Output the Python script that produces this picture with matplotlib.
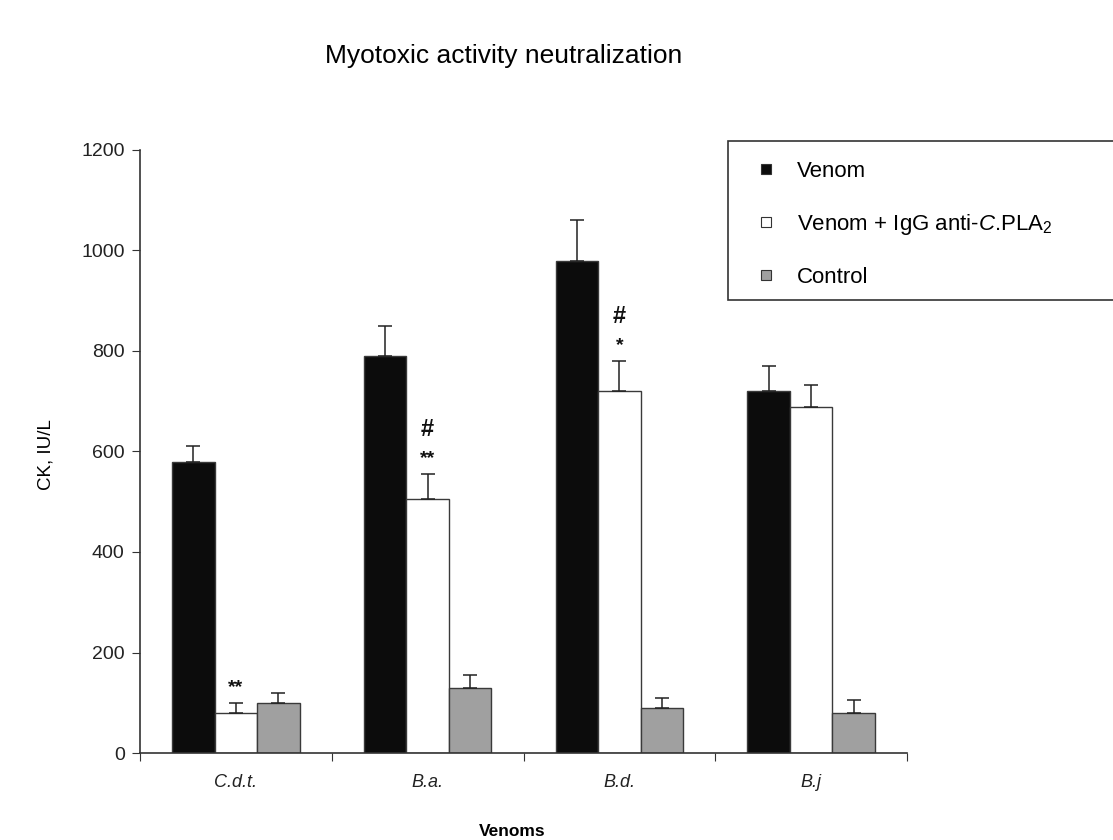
import matplotlib
matplotlib.use("Agg")
import matplotlib.pyplot as plt
import numpy as np
from matplotlib.lines import Line2D
from matplotlib.patches import Rectangle

plt.rcParams['font.family'] = ['Liberation Sans', 'DejaVu Sans']
plt.rcParams['mathtext.fontset'] = 'custom'
plt.rcParams['mathtext.rm'] = 'Liberation Sans'
plt.rcParams['mathtext.it'] = 'Liberation Sans:italic'

categories = ["C.d.t.", "B.a.", "B.d.", "B.j"]
venom = [580, 790, 980, 720]
venom_err = [30, 60, 80, 50]
venom_igg = [80, 505, 720, 688]
venom_igg_err = [20, 50, 60, 45]
control = [100, 130, 90, 80]
control_err = [20, 25, 20, 25]
annot_hash = ["", "#", "#", ""]
annot_star = ["**", "**", "*", ""]
series_names = ["Venom", r"Venom + IgG anti-$\mathit{C}$.PLA$_2$", "Control"]
yticks = [0, 200, 400, 600, 800, 1000, 1200]

colors = ["#0c0c0c", "#ffffff", "#a0a0a0"]
edge = "#3a3a3a"

fig = plt.figure(figsize=(11.13, 8.4), dpi=100)
ax = fig.add_axes([140/1113, 87/840, 767/1113, 603/840])

x = np.arange(len(categories))
w = 0.222
series = [(venom, venom_err), (venom_igg, venom_igg_err), (control, control_err)]
for i, (vals, errs) in enumerate(series):
    pos = x + (i - 1) * w
    ax.bar(pos, vals, width=w, color=colors[i], edgecolor=edge, linewidth=1.0, zorder=2)
    ax.errorbar(pos, vals, yerr=[np.zeros(len(vals)), errs], fmt='none',
                ecolor="#222222", elinewidth=1.1, capsize=5, capthick=1.1, zorder=3)

for j in range(len(categories)):
    top = venom_igg[j] + venom_igg_err[j]
    if annot_star[j]:
        ax.text(x[j], top + 30, annot_star[j], ha='center', va='center', fontsize=14,
                fontweight='bold', color='#111111')
    if annot_hash[j]:
        ax.text(x[j], top + 88, annot_hash[j], ha='center', va='center', fontsize=17,
                fontweight='bold', color='#111111')

ax.set_xlim(-0.5, len(categories) - 0.5)
ax.set_ylim(0, 1200)
ax.set_yticks(yticks)
ax.set_yticklabels([str(t) for t in yticks], fontsize=14, color='#222222')
ax.set_xticks(np.arange(len(categories) + 1) - 0.5)
ax.set_xticklabels([])
ax.tick_params(axis='x', direction='out', length=6, color='#333333')
ax.tick_params(axis='y', direction='out', length=6, color='#333333', pad=5)
for j, c in enumerate(categories):
    ax.text(x[j], -58, c, ha='center', va='center', fontsize=13, style='italic', color='#222222')

for s in ['top', 'right']:
    ax.spines[s].set_visible(False)
for s in ['left', 'bottom']:
    ax.spines[s].set_color('#333333')
    ax.spines[s].set_linewidth(1.2)

fig.text(504/1113, 1 - 56/840, "Myotoxic activity neutralization", ha='center', va='center', fontsize=19)
fig.text(46/1113, 1 - 455/840, "CK, IU/L", ha='center', va='center', rotation=90, fontsize=13.5)
fig.text(512/1113, 1 - 831/840, "Venoms", ha='center', va='center', fontsize=12.5, fontweight='bold')

# legend box extends to figure edge
fig.patches.append(Rectangle((728/1113, 1 - 300/840), 400/1113, 159/840, transform=fig.transFigure,
                             facecolor='white', edgecolor='#333333', linewidth=1.2, zorder=5))
handles = [Line2D([], [], marker='s', linestyle='none', markersize=6.5, markerfacecolor=colors[i],
                  markeredgecolor='#333333', markeredgewidth=0.8) for i in range(3)]
leg = fig.legend(handles, series_names, loc='upper left', bbox_to_anchor=(735/1113, 1 - 141/840),
                 frameon=False, fontsize=16, handletextpad=0.9, labelspacing=1.35, handlelength=1.0)
leg.set_zorder(6)

fig.savefig("out.png", dpi=100)
